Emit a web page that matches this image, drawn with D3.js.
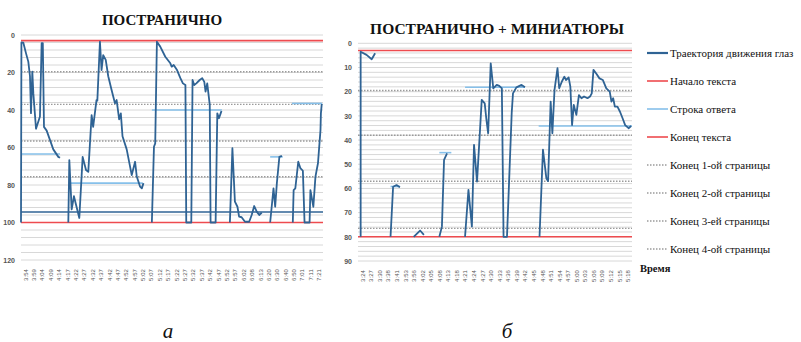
<!DOCTYPE html>
<html><head><meta charset="utf-8">
<script src="https://cdn.jsdelivr.net/npm/d3@7"></script>
<style>body{margin:0;background:#fff}svg{display:block}
.serif{font-family:"Liberation Serif","Times New Roman","DejaVu Serif",serif}</style>
</head><body>
<svg id="c" width="801" height="342"></svg>
<script>
// ---------- DATA ----------
const leftTitle = "ПОСТРАНИЧНО";
const rightTitle = "ПОСТРАНИЧНО + МИНИАТЮРЫ";
const leftLabels = ["3:54","3:59","4:04","4:09","4:14","4:17","4:22","4:27","4:32","4:37","4:42","4:47","4:52","4:57","5:02","5:07","5:12","5:17","5:22","5:27","5:32","5:37","5:42","5:47","5:52","5:57","6:02","6:08","6:13","6:20","6:30","6:40","6:50","7:01","7:11","7:21"];
const rightLabels = ["3:24","3:27","3:30","3:38","3:41","3:53","3:56","4:02","4:05","4:08","4:13","4:18","4:21","4:24","4:27","4:30","4:33","4:36","4:39","4:42","4:45","4:48","4:51","4:54","4:57","5:00","5:03","5:06","5:09","5:12","5:15","5:18"];
const leftYTicks = [0,20,40,60,80,100,120];
const rightYTicks = [0,10,20,30,40,50,60,70,80,90];

// trajectory: [time position (category units), line value]; null = break
const leftTrajectory = [
 [0,100],[0.05,4],[0.28,4.1],[0.6,9.8],[0.87,14.2],[1.07,22],[1.19,41.7],[1.35,19.6],[1.47,31],[1.79,50],[2.26,43.5],[2.46,4.4],[2.6,4.4],[2.74,49],[3.06,51],[3.85,61],[4.45,65],[4.65,65.5],null,
 [5.64,100],[5.76,66.7],[6.04,93],[6.31,86],[6.95,97.6],[7.35,65],[7.75,72],[8.02,73],[8.42,42.7],[8.6,49],[9.0,34.7],[9.1,35],[9.41,3.6],[9.6,18.7],[9.8,10.7],[10.1,13.3],[10.4,22],[10.8,29.3],[11.2,36.4],[11.4,34.7],[11.7,45],[11.9,41.8],[12.1,54],[12.6,61],[13.2,74.7],[13.6,67.6],[13.8,75.5],[14.2,80.9],[14.4,81.8],[14.6,79],null,
 [15.6,100],[15.85,59.6],[16.0,57.8],[16.2,3.6],[16.6,6.2],[17.2,11.6],[17.8,15.1],[17.96,16.9],[18.2,16],[18.6,18.7],[19.0,23],[19.3,25.8],[19.6,26.7],[19.7,100],[20.3,100],[20.45,24],[20.65,26.7],[20.9,25.8],[21.3,24],[21.6,23],[21.85,25],[22.0,30.2],[22.2,25.8],[22.5,37.3],[22.6,100],[23.2,100],[23.4,41.8],[23.6,44.4],[23.8,41.8],[23.9,40.5],null,
 [24.9,100],[25.2,60.4],[25.5,88.9],[25.8,91.6],[26.0,96.9],[26.3,97.2],[26.7,99.6],[27.2,99.6],[27.5,96],[27.8,91.2],[28.1,94.2],[28.4,96],[28.7,94.7],null,
 [29.7,100],[30.1,81.8],[30.3,91.6],[30.5,79],[30.8,65],[31.1,64.5],null,
 [32.4,100],[32.5,82.7],[32.7,81.8],[33.05,67.6],[33.3,71],[33.6,72.4],[33.8,100],[34.4,100],[34.5,82.7],[34.85,91.6],[35.1,75.5],[35.4,68.4],[35.7,50.7],[35.75,41.8],[35.85,36.8]
];
const leftFlatTrajectory = 94.4;
const rightTrajectory = [
 [0.31,80],[0.31,3.5],[1.0,4.8],[1.6,6.6],[2.0,4.1],null,
 [3.8,80],[4.1,59.3],[4.5,58.6],[4.9,59.5],null,
 [6.5,80],[7.25,77.4],[7.7,79.2],null,
 [9.5,80],[9.8,75.8],[10.05,48.2],[10.4,45.5],null,
 [12.5,80],[12.9,60.6],[13.3,75.8],[13.55,42],[13.9,57.2],[14.25,35.8],[14.45,23.4],[14.8,24.8],[15.0,31.7],[15.2,37.2],[15.5,8.3],[15.8,18.6],[16.2,17.2],[16.5,17.6],[16.8,18.6],[17.0,80],[17.4,80],[17.95,28.9],[18.1,20.7],[18.5,18.2],[19.1,17.2],[19.5,18.2],null,
 [21.2,80],[21.6,44],[22.0,55.8],[22.2,57],[22.5,24.1],[22.7,37.2],[22.95,19.3],[23.3,10.3],[23.5,18.6],[23.8,15.9],[24.1,13.8],[24.3,15.2],[24.6,14.1],[24.8,17.9],[25.0,33.8],[25.2,25.5],[25.5,29.6],[25.8,21.4],[26.1,22.7],[26.4,22],[26.8,22.7],[27.1,22],[27.3,20.7],[27.5,11],[27.8,12.4],[28.2,14.5],[28.6,15.2],[29.0,18.6],[29.4,20],[29.6,24.1],[29.8,22.7],[30.0,26.2],[30.3,26.2],[30.6,28.3],[30.9,31],[31.2,33.8],[31.6,35.1],[31.9,34.2]
];
// answer line segments: [from, to, value]
const leftAnswer = [[0,4.65,63.5],[5.84,14.5,79],[15.6,23.95,40],[29.7,31.2,65],[32.3,35.9,36.5]];
const rightAnswer = [[3.8,4.9,59.2],[9.5,10.9,45.2],[12.5,19.5,18.2],[21.1,32,34.2]];
const leftTextStart = 3, leftTextEnd = 100;
const rightTextStart = 3, rightTextEnd = 80;
const leftPageEnds = [19.6,37,56.5,75.6];
const rightPageEnds = [19.5,38,57,76.5];
const legendItems = ["Траектория движения глаз","Начало текста","Строка ответа","Конец текста","Конец 1-ой страницы","Конец 2-ой страницы","Конец 3-ей страницы","Конец 4-ой страницы"];
const axisTitle = "Время";
const panelLetters = ["а","б"];

// ---------- STYLE ----------
const C = {traj:"#2f6394", red:"#ee4b4f", light:"#86c0ea", grid:"#d8d8d8", dot:"#9a9a9a", text:"#111", tick:"#555"};
const legendStyles = [
 {c:C.traj,w:2.2,d:null},{c:C.red,w:1.6,d:null},{c:C.light,w:1.6,d:null},{c:C.red,w:1.6,d:null},
 {c:C.dot,w:1.4,d:"1.5,1.5"},{c:C.dot,w:1.4,d:"1.5,1.5"},{c:C.dot,w:1.4,d:"1.5,1.5"},{c:C.dot,w:1.4,d:"1.5,1.5"}];

const svg = d3.select("#c");

function panel(o){
  const g = svg.append("g");
  const x = d3.scaleLinear().domain([0,o.labels.length]).range(o.xr);
  const y = d3.scaleLinear().domain([0,o.ymax]).range(o.yr);
  g.append("g").selectAll("line").data(d3.range(0,o.ymax+0.001,o.minor)).join("line")
    .attr("x1",o.xr[0]).attr("x2",o.xr[1]).attr("y1",d=>y(d)).attr("y2",d=>y(d))
    .attr("stroke",C.grid).attr("stroke-width",1);
  const ya = g.append("g").attr("transform",`translate(${o.xr[0]-4},0)`)
    .call(d3.axisLeft(y).tickValues(o.yticks).tickSize(0).tickPadding(2));
  ya.select(".domain").remove();
  ya.selectAll("text").attr("font-family","Liberation Sans, Arial").attr("font-size",7).attr("fill",C.tick).attr("font-weight","bold");
  const xa = g.append("g").attr("transform",`translate(0,${o.yr[1]+5})`)
    .call(d3.axisBottom(x).tickValues(d3.range(o.labels.length).map(i=>i+0.5)).tickFormat((d,i)=>o.labels[i]).tickSize(0));
  xa.select(".domain").remove();
  xa.selectAll("text").attr("font-family","Liberation Sans, Arial").attr("font-size",6).attr("fill",C.tick)
    .attr("text-anchor","end").attr("dy","0.32em").attr("dx","-0.2em").attr("transform","rotate(-90)").attr("y",0).attr("x",-3);
  g.append("g").selectAll("line").data(o.pages).join("line")
    .attr("x1",o.xr[0]).attr("x2",o.xr[1]).attr("y1",d=>y(d)).attr("y2",d=>y(d))
    .attr("stroke",C.dot).attr("stroke-width",1.4).attr("stroke-dasharray","1.5,1.5");
  g.append("g").selectAll("line").data([o.start,o.end]).join("line")
    .attr("x1",o.xr[0]).attr("x2",o.xr[1]).attr("y1",d=>y(d)).attr("y2",d=>y(d))
    .attr("stroke",C.red).attr("stroke-width",1.6);
  g.append("g").selectAll("line").data(o.answer).join("line")
    .attr("x1",d=>x(d[0])).attr("x2",d=>x(d[1])).attr("y1",d=>y(d[2])).attr("y2",d=>y(d[2]))
    .attr("stroke",C.light).attr("stroke-width",1.6);
  if(o.flat!=null){
    g.append("line").attr("x1",o.xr[0]).attr("x2",o.xr[1]).attr("y1",y(o.flat)).attr("y2",y(o.flat))
      .attr("stroke",C.traj).attr("stroke-width",1.3);
  }
  const line = d3.line().defined(d=>d!==null).x(d=>x(d[0])).y(d=>y(d[1]));
  g.append("path").datum(o.traj).attr("d",line).attr("fill","none").attr("stroke",C.traj)
    .attr("stroke-width",1.8).attr("stroke-linejoin","round");
  g.append("text").attr("class","serif").attr("x",o.tx).attr("y",o.ty).attr("text-anchor","middle")
    .attr("font-weight","bold").attr("font-size",o.tfs).attr("fill",C.text).text(o.title);
}

panel({labels:leftLabels, xr:[21,323], ymax:120, yr:[35,260], minor:4, yticks:leftYTicks,
  pages:leftPageEnds, start:leftTextStart, end:leftTextEnd, answer:leftAnswer, flat:leftFlatTrajectory,
  traj:leftTrajectory, title:leftTitle, tx:162, ty:25, tfs:15});
panel({labels:rightLabels, xr:[358,632], ymax:90, yr:[43.3,261], minor:2, yticks:rightYTicks,
  pages:rightPageEnds, start:rightTextStart, end:rightTextEnd, answer:rightAnswer, flat:null,
  traj:rightTrajectory, title:rightTitle, tx:497, ty:33.5, tfs:15.5});

const lg = svg.append("g");
const ly = d3.scalePoint().domain(d3.range(legendItems.length)).range([53,249]);
legendItems.forEach((t,i)=>{
  const s = legendStyles[i];
  lg.append("line").attr("x1",647).attr("x2",668).attr("y1",ly(i)).attr("y2",ly(i))
    .attr("stroke",s.c).attr("stroke-width",s.w).attr("stroke-dasharray",s.d);
  lg.append("text").attr("class","serif").attr("x",670).attr("y",ly(i)).attr("dy","0.35em")
    .attr("font-size",11).attr("fill",C.text).text(t);
});
lg.append("text").attr("class","serif").attr("x",640).attr("y",268).attr("dy","0.35em")
  .attr("font-size",10.5).attr("font-weight","bold").attr("fill",C.text).text(axisTitle);

svg.selectAll("text.pl").data(panelLetters).join("text").attr("class","pl serif")
  .attr("x",(d,i)=>[168,507][i]).attr("y",338).attr("text-anchor","middle")
  .attr("font-style","italic").attr("font-size",21).attr("fill",C.text).text(d=>d);
</script>
</body></html>
